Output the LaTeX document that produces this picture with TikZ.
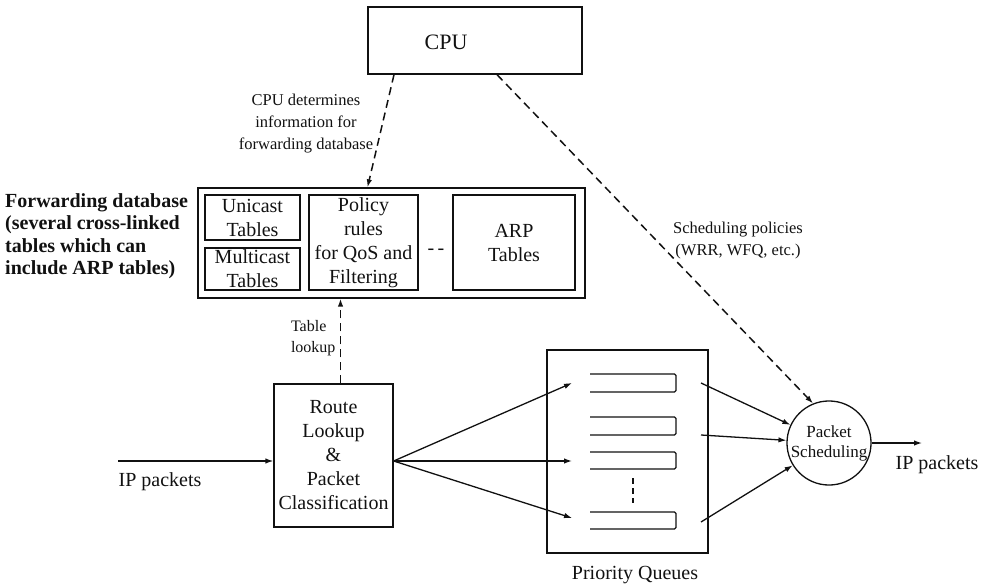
\documentclass[tikz,border=0pt]{standalone}
\usepackage{fontspec}
\setmainfont{Liberation Serif}
\usepackage{tikz}
\usetikzlibrary{arrows.meta,positioning,calc}
\definecolor{DiagInk}{HTML}{111111}

\tikzset{
  box/.style={draw=DiagInk,line width=1.3pt,inner sep=0pt,align=center},
  bigtext/.style={font=\fontsize{20}{24}\selectfont},
  smalltext/.style={font=\fontsize{16.5}{22}\selectfont,align=center},
  dasharrow/.style={->,line width=1.5pt,dash pattern=on 8pt off 5pt},
  flow/.style={->,line width=1.3pt},
  slot/.style={line width=1.3pt,rounded corners=1.5pt}
}

\begin{document}
\begin{tikzpicture}[x=1pt,y=-1pt,>={Latex[length=8pt,width=5.5pt]},DiagInk]
  \useasboundingbox (0,0) rectangle (981,588);
  % cpu and forwarding database
  \node[box,minimum width=214pt,minimum height=67pt] (cpu) at (475,40.5) {};
  \node[font=\fontsize{22}{26}\selectfont] (cputext) at (446,42) {CPU};
  \node[box,minimum width=387pt,minimum height=110pt] (fwd) at (391.5,243) {};
  \node[box,bigtext,minimum width=95pt,minimum height=45pt] (uni) at (252.5,217.5)
    {Unicast\\Tables};
  \node[box,bigtext,minimum width=95pt,minimum height=42pt] (multi) at (252.5,269)
    {Multicast\\Tables};
  \node[box,bigtext,minimum width=109pt,minimum height=95pt] (policy) at (363.5,242.5)
    {Policy\\rules\\for QoS and\\Filtering};
  \node[bigtext] (more) at (436,252) {-\,-};
  \node[box,bigtext,minimum width=122pt,minimum height=95pt] (arp) at (514,242.5)
    {ARP\\Tables};
  \node[anchor=west,align=left,inner sep=0pt,
        font=\fontsize{20}{22.5}\selectfont\bfseries] (fwdlabel) at (5,236)
    {Forwarding database\\(several cross-linked\\tables which can\\include ARP tables)};
  \node[smalltext] (cpulabel) at (306,124)
    {CPU determines\\information for\\forwarding database};
  \node[smalltext] (schedlabel) at (738,241)
    {Scheduling policies\\(WRR, WFQ, etc.)};

  % classification
  \node[box,bigtext,minimum width=119pt,minimum height=143pt] (route) at (333.5,455.5)
    {Route\\Lookup\\\&\\Packet\\Classification};
  \coordinate (tl) at ($(route.north)+(7,0)$);
  \node[anchor=east,align=left,font=\fontsize{16}{20.5}\selectfont] (tllabel)
    at (339,338) {Table\\lookup};
  \coordinate (ipin) at (118,461);
  \coordinate (fan) at (route.east |- ipin);
  \node[bigtext] (iplabel) at (160,482) {IP packets};

  % queues
  \node[box,minimum width=161pt,minimum height=203pt] (queues) at (627.5,451.5) {};
  \node[bigtext] (qlabel) at (635,575) {Priority Queues};
  \foreach \top/\h in {374/18,417/18,452/17,512/17}
    \draw[slot] (590,\top) -- (676,\top) -- (676,\top+\h) -- (590,\top+\h);
  \draw[line width=1.4pt,dash pattern=on 6pt off 4pt] (633,478) -- (633,503);
  \coordinate (in1) at (572,383);
  \coordinate (in3) at (572,461);
  \coordinate (in4) at (572,518);
  \coordinate (out1) at (701,383);
  \coordinate (out2) at (701,435);
  \coordinate (out4) at (701,522);

  % scheduler
  \node[circle,draw,line width=1.3pt,minimum size=84pt,inner sep=0pt,align=center,
        font=\fontsize{17}{20}\selectfont] (sched) at (829,443)
    {Packet\\Scheduling};
  \coordinate (ipout) at (922,443);
  \node[bigtext] (outlabel) at (937,465) {IP packets};

  % connectors
  \draw[dasharrow] ($(cpu.south)+(-81,0)$) -- ($(fwd.north)+(-24,0)$);
  \draw[dasharrow] ($(cpu.south)+(22,0)$) -- (sched.112);
  \draw[dasharrow] (tl) -- (tl |- fwd.south);
  \draw[flow] (ipin) -- (ipin -| route.west);
  \foreach \q in {in1,in3,in4}
    \draw[flow] (fan) -- (\q);
  \foreach \q in {out1,out2,out4}
    \draw[flow] (\q) -- (sched);
  \draw[flow] (sched) -- (ipout);
\end{tikzpicture}
\end{document}
